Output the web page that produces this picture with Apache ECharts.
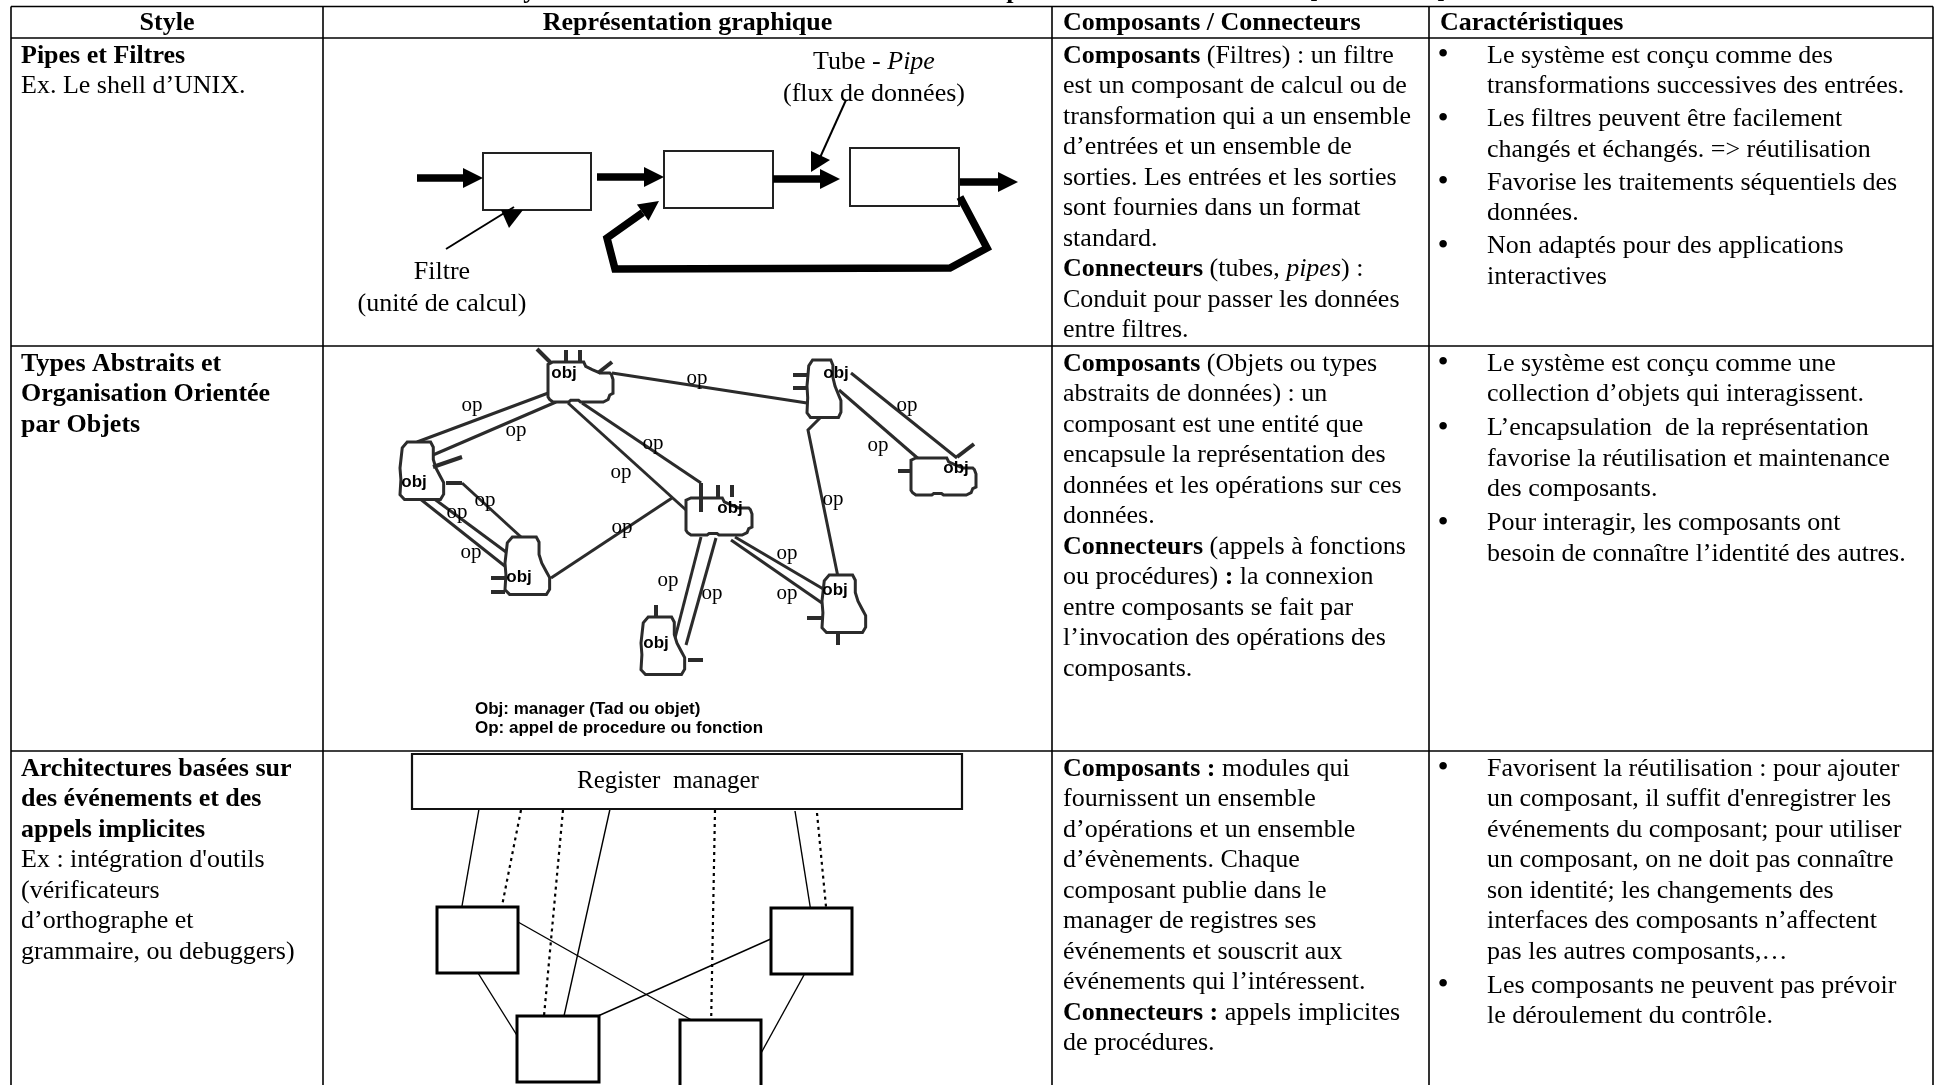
<!DOCTYPE html>
<html><head><meta charset="utf-8">
<script src="https://cdn.jsdelivr.net/npm/echarts/dist/echarts.min.js"></script>
<style>html,body{margin:0;padding:0;background:#fff}#c{width:1938px;height:1085px}</style>
</head><body><div id="c"></div>
<script>
// ================= DATA =================
const titleText = "Les styles d’architecture les mieux connus et la représentation et leur nature [Shaw 1996]";
const headerLabels = ["Style", "Représentation graphique", "Composants / Connecteurs", "Caractéristiques"];

const styleRow1 = ["{b|Pipes et Filtres}", "Ex. Le shell d’UNIX."];
const styleRow2 = ["{b|Types Abstraits et}", "{b|Organisation Orientée}", "{b|par Objets}"];
const styleRow3 = ["{b|Architectures basées sur}", "{b|des événements et des}", "{b|appels implicites}",
  "Ex : intégration d'outils", "(vérificateurs", "d’orthographe et", "grammaire, ou debuggers)"];

const compRow1 = ["{b|Composants} (Filtres) : un filtre", "est un composant de calcul ou de",
  "transformation qui a un ensemble", "d’entrées et un ensemble de", "sorties. Les entrées et les sorties",
  "sont fournies dans un format", "standard.", "{b|Connecteurs} (tubes, {i|pipes}) :",
  "Conduit pour passer les données", "entre filtres."];
const compRow2 = ["{b|Composants} (Objets ou types", "abstraits de données) : un", "composant est une entité que",
  "encapsule la représentation des", "données et les opérations sur ces", "données.",
  "{b|Connecteurs} (appels à fonctions", "ou procédures) {b|:} la connexion", "entre composants se fait par",
  "l’invocation des opérations des", "composants."];
const compRow3 = ["{b|Composants :} modules qui", "fournissent un ensemble", "d’opérations et un ensemble",
  "d’évènements. Chaque", "composant publie dans le", "manager de registres ses", "événements et souscrit aux",
  "événements qui l’intéressent.", "{b|Connecteurs :} appels implicites", "de procédures."];

const charRow1 = [["Le système est conçu comme des", "transformations successives des entrées."],
  ["Les filtres peuvent être facilement", "changés et échangés. => réutilisation"],
  ["Favorise les traitements séquentiels des", "données."],
  ["Non adaptés pour des applications", "interactives"]];
const charRow2 = [["Le système est conçu comme une", "collection d’objets qui interagissent."],
  ["L’encapsulation  de la représentation", "favorise la réutilisation et maintenance", "des composants."],
  ["Pour interagir, les composants ont", "besoin de connaître l’identité des autres."]];
const charRow3 = [["Favorisent la réutilisation : pour ajouter", "un composant, il suffit d'enregistrer les",
  "événements du composant; pour utiliser", "un composant, on ne doit pas connaître",
  "son identité; les changements des", "interfaces des composants n’affectent", "pas les autres composants,…"],
  ["Les composants ne peuvent pas prévoir", "le déroulement du contrôle."]];

// table frame (axis units = pixels)
const tableCols = [11, 323, 1052, 1429, 1933];
const tableRows = [6.5, 38, 346, 751, 1085];

// --- diagram 1 : pipes & filters
const pipeBoxes = [[483,153,591,210],[664,151,773,208],[850,148,959,206]];
const pipeArrows = [[417,178,483,178],[597,177,664,177],[773,179,840,179],[960,182,1018,182],
  [960,197,987,248,950,268,615,269,607,238,659,201]];
const pipePointers = [[446,249,514,207],[846,100,818,162]];
const pointerHeads = [[501,210,523,210,509,228],[811,151,811,172,830,160]];
const pipeLabelTexts = ["Tube - {i|Pipe}", "(flux de données)", "Filtre", "(unité de calcul)"];
const pipeLabelAnchors = [[874,62],[874,94],[442,272],[442,304]];

// --- diagram 2 : objects
const objBoxes = [[548,361,613,402,'w'],[807,360,842,418,'t'],[400,442,445,500,'t'],[505,537,551,595,'t'],
  [686,497,752,535,'w'],[641,617,686,675,'t'],[822,575,867,633,'t'],[911,457,976,495,'w']];
const objLabelAnchors = [[564,373],[836,373],[414,482],[519,577],[730,508],[656,643],[835,590],[956,468]];
const objStubs = [[537,349,551,363],[566,350,566,363],[580,350,580,363],[598,373,612,362],
  [793,375,807,375],[793,388,807,388],[433,467,462,457],[446,483,462,483],
  [491,578,505,578],[491,592,505,592],[701,483,701,512],[718,485,718,497],[732,485,732,497],
  [656,605,656,617],[688,660,703,660],[807,618,822,618],[838,633,838,645],[898,471,911,471],[957,457,974,444]];
const objLinks = [[612,373,807,403],[551,392,417,442],[556,402,433,455],[568,403,686,510],[582,403,701,483],
  [462,483,521,537],[419,498,506,567],[433,498,506,552],[551,578,672,498],[701,537,674,642],[716,538,686,645],
  [735,537,825,590],[731,540,822,603],[820,418,808,430,838,577],[851,373,957,458],[839,390,929,468]];
const opAnchors = [[697,378],[472,405],[516,430],[621,472],[653,443],[485,500],[457,512],[471,552],
  [622,527],[668,580],[712,593],[787,553],[787,593],[833,499],[907,405],[878,445]];
const objLegend = ["Obj: manager (Tad ou objet)", "Op: appel de procedure ou fonction"];
const objLegendAnchors = [[475,709],[475,728]];
// cloud outline templates (normalised to the object box)
const cloudWide = [[0.075,0.025],[0.55,0.025],[0.58,0.13],[0.68,0.21],[0.8,0.29],[0.95,0.29],[0.975,0.33],[1,0.45],[1,0.79],[0.95,0.83],[0.925,0.94],[0.85,1],[0.5,1],[0.47,0.96],[0.35,0.96],[0.32,1],[0.075,1],[0.025,0.94],[0,0.875],[0,0.083]];
const cloudTall = [[0.16,0],[0.68,0],[0.74,0.09],[0.74,0.3],[0.8,0.45],[0.9,0.6],[0.97,0.7],[0.97,0.9],[0.9,0.99],[0.1,0.99],[0,0.91],[0.02,0.65],[0,0.45],[0.05,0.1]];

// --- diagram 3 : events
const regBox = [412,754,962,809];
const regLabel = "Register  manager";
const regLabelAnchor = [668,781];
const evBoxes = [[437,907,518,973],[771,908,852,974],[517,1016,599,1082],[680,1020,761,1092]];
const evSolid = [[479,809,462,906],[610,809,564,1016],[795,811,811,912],[518,922,695,1022],
  [773,938,598,1016],[478,973,523,1045],[804,975,760,1055]];
const evDashed = [[521,810,502,906],[563,810,543,1027],[715,810,711,1029],[817,813,827,917]];

// ================= LAYOUT / STYLE =================
const W = 1938, H = 1085;
const SERIF = "Liberation Serif";
const SANS = "Liberation Sans";
const LINE_H = 30.5;
const firstLine = [56, 364, 769];
const paraGap = [2.5, 3.5, 3.5];
const GREY = '#2b2b2b';

const ITEMS = [];
const T = (s, x, y, o) => ITEMS.push(Object.assign({k:'text', s, x, y, fs:26, ff:SERIF, fw:'normal', a:'left'}, o||{}));
const L = (pts, o) => ITEMS.push(Object.assign({k:'line', pts, c:'#000', w:1.5}, o||{}));

// table frame
tableCols.forEach(x => L([x, tableRows[0], x, tableRows[tableRows.length-1]], {w:1.6}));
tableRows.slice(0, -1).forEach(y => L([tableCols[0], y, tableCols[tableCols.length-1], y], {w:1.6}));

// title (cut at top)
T(titleText, 459, -9, {fw:'bold'});
// header
headerLabels.forEach((h, i) => {
  const center = i < 2;
  const x = center ? (tableCols[i] + tableCols[i+1]) / 2 : tableCols[i] + 11;
  T(h, x, 23, {fw:'bold', a: center ? 'center' : 'left'});
});
// column texts
function colLines(lines, row, x) { lines.forEach((s, i) => T(s, x, firstLine[row] + i * LINE_H)); }
function bullets(paras, row) {
  let y = firstLine[row];
  paras.forEach(p => {
    T("•", tableCols[3] + 14, y, {a:'center', fs:32});
    p.forEach(s => { T(s, tableCols[3] + 58, y); y += LINE_H; });
    y += paraGap[row];
  });
}
[styleRow1, styleRow2, styleRow3].forEach((l, r) => colLines(l, r, tableCols[0] + 10));
[compRow1, compRow2, compRow3].forEach((l, r) => colLines(l, r, tableCols[2] + 11));
[charRow1, charRow2, charRow3].forEach((p, r) => bullets(p, r));

// diagram 1
pipeBoxes.forEach(b => ITEMS.push({k:'rect', b, c:'#222', w:2}));
pipeArrows.forEach(p => ITEMS.push({k:'arrow', pts:p, w:7.5, hl:20, hw:10}));
pipePointers.forEach(p => L(p, {w:2}));
pointerHeads.forEach(p => ITEMS.push({k:'poly', pts:p, fill:'#000'}));
pipeLabelTexts.forEach((s, i) => T(s, pipeLabelAnchors[i][0], pipeLabelAnchors[i][1], {a:'center'}));

// diagram 2
objLinks.forEach(p => L(p, {c:GREY, w:3}));
objBoxes.forEach(b => {
  const tpl = b[4] === 'w' ? cloudWide : cloudTall;
  const pts = [];
  tpl.forEach(q => { pts.push(b[0] + q[0] * (b[2] - b[0]), b[1] + q[1] * (b[3] - b[1])); });
  ITEMS.push({k:'poly', pts, fill:'#fff', stroke:GREY, w:3});
});
objStubs.forEach(p => L(p, {c:GREY, w:4}));
objLabelAnchors.forEach(a => T("obj", a[0], a[1], {fs:17, ff:SANS, fw:'bold', a:'center'}));
opAnchors.forEach(a => T("op", a[0], a[1], {fs:21, a:'center'}));
objLegend.forEach((s, i) => T(s, objLegendAnchors[i][0], objLegendAnchors[i][1], {fs:17, ff:SANS, fw:'bold'}));

// diagram 3
evSolid.forEach(p => L(p, {w:1.4}));
evDashed.forEach(p => L(p, {w:2.2, dash:[3,4]}));
ITEMS.push({k:'rect', b:regBox, c:'#111', w:2.2});
evBoxes.forEach(b => ITEMS.push({k:'rect', b, c:'#000', w:3}));
T(regLabel, regLabelAnchor[0], regLabelAnchor[1], {fs:25, a:'center'});

// ================= RENDER =================
function richFor(fs, ff) {
  return {
    b: {fontSize: fs, fontFamily: ff, fontWeight: 'bold', fontStyle: 'normal', fill: '#000'},
    i: {fontSize: fs, fontFamily: ff, fontWeight: 'normal', fontStyle: 'italic', fill: '#000'}
  };
}
function renderItem(params, api) {
  const it = ITEMS[params.dataIndex];
  const P = (x, y) => api.coord([x, y]);
  const pts = arr => { const o = []; for (let i = 0; i < arr.length; i += 2) o.push(P(arr[i], arr[i+1])); return o; };
  if (it.k === 'text') {
    const p = P(it.x, it.y);
    return {type:'text', x:p[0], y:p[1], silent:true, style:{text:it.s, fill:'#000', fontSize:it.fs, fontFamily:it.ff,
      fontWeight:it.fw, fontStyle:'normal', align:it.a, verticalAlign:'middle', rich:richFor(it.fs, it.ff)}};
  }
  if (it.k === 'line') {
    return {type:'polyline', silent:true, shape:{points:pts(it.pts)},
      style:{stroke:it.c, lineWidth:it.w, fill:null, lineDash:it.dash || null, lineJoin:'miter', lineCap:'butt'}};
  }
  if (it.k === 'poly') {
    return {type:'polygon', silent:true, shape:{points:pts(it.pts)},
      style:{fill:it.fill, stroke:it.stroke || null, lineWidth:it.w || 0, lineJoin:'miter'}};
  }
  if (it.k === 'rect') {
    const a = P(it.b[0], it.b[1]), b = P(it.b[2], it.b[3]);
    return {type:'rect', silent:true, shape:{x:a[0], y:a[1], width:b[0]-a[0], height:b[1]-a[1]},
      style:{fill:'#fff', stroke:it.c, lineWidth:it.w}};
  }
  if (it.k === 'arrow') {
    const p = pts(it.pts);
    const tip = p[p.length-1], prev = p[p.length-2];
    const dx = tip[0]-prev[0], dy = tip[1]-prev[1], len = Math.hypot(dx, dy);
    const ux = dx/len, uy = dy/len;
    const base = [tip[0]-ux*it.hl, tip[1]-uy*it.hl];
    const shaft = p.slice(0, -1).concat([base]);
    return {type:'group', silent:true, children:[
      {type:'polyline', shape:{points:shaft}, style:{stroke:'#000', lineWidth:it.w, fill:null, lineJoin:'miter', lineCap:'butt'}},
      {type:'polygon', shape:{points:[tip, [base[0]-uy*it.hw, base[1]+ux*it.hw], [base[0]+uy*it.hw, base[1]-ux*it.hw]]}, style:{fill:'#000'}}
    ]};
  }
  return null;
}

const chart = echarts.init(document.getElementById('c'), null, {renderer:'canvas'});
chart.setOption({
  animation: false,
  backgroundColor: '#fff',
  grid: {left:0, right:0, top:0, bottom:0},
  xAxis: {type:'value', min:0, max:W, show:false},
  yAxis: {type:'value', min:0, max:H, inverse:true, show:false},
  series: [{type:'custom', coordinateSystem:'cartesian2d', silent:true, clip:false,
    data: ITEMS.map((it, i) => [i % W, 0]), renderItem}]
});
</script>
</body></html>
